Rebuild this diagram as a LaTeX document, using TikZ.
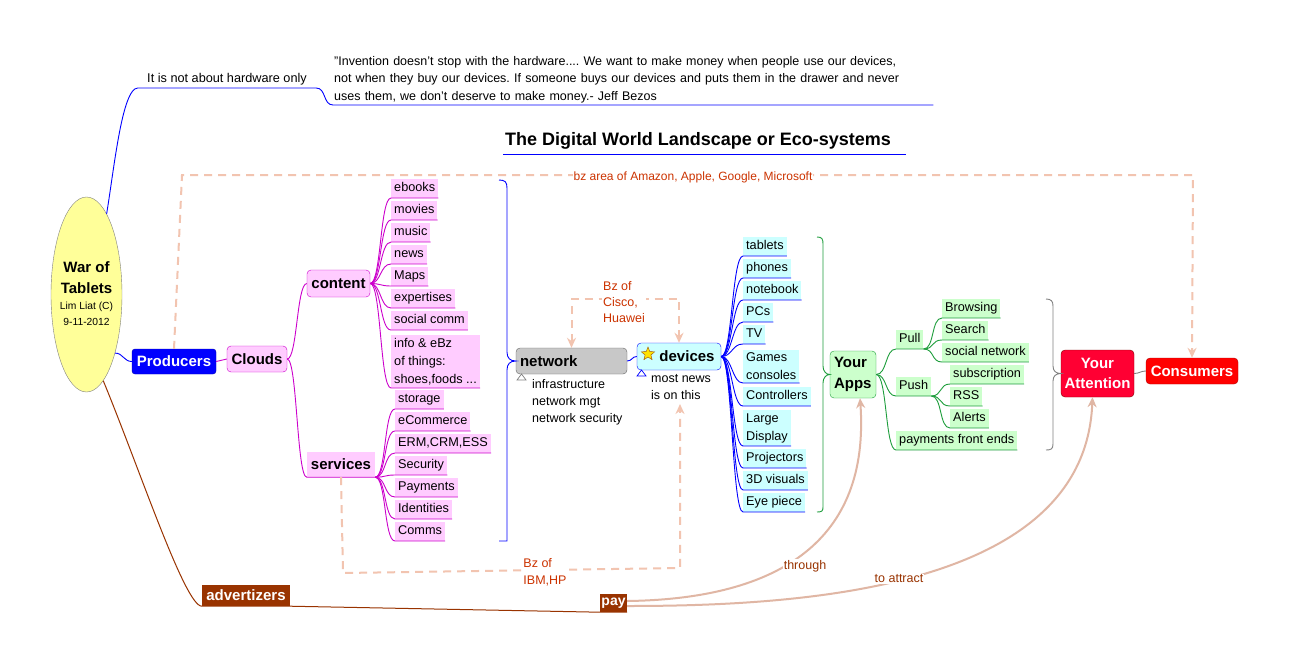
\documentclass[tikz,border=0pt]{standalone}
\usepackage{fontspec}
\setmainfont{Liberation Sans}
\usetikzlibrary{arrows.meta,shapes.geometric}
\frenchspacing
\definecolor{pinkF}{HTML}{FFCCFF}
\definecolor{magL}{HTML}{CC00CC}
\definecolor{cyanF}{HTML}{CCFFFF}
\definecolor{bluL}{HTML}{0000FF}
\definecolor{greenF}{HTML}{CCFFCC}
\definecolor{grnL}{HTML}{1E9E3C}
\definecolor{yelF}{HTML}{FFFF99}
\definecolor{brownF}{HTML}{993300}
\definecolor{salD}{HTML}{F2C4B0}
\definecolor{salS}{HTML}{E0B6A4}
\definecolor{lblR}{HTML}{CC3300}
\definecolor{lblB}{HTML}{993300}
\definecolor{grayF}{HTML}{C8C8C8}
\definecolor{attnF}{HTML}{FF0033}
\definecolor{consF}{HTML}{FF0000}
\newcommand{\linkto}[3]{\draw[#1] (#2) .. controls +(11,0) and +(-11,0) .. (#3.south west) -- (#3.south east);}
\tikzset{
 lf/.style={font=\fontsize{12.7}{18}\selectfont, inner xsep=3pt, inner ysep=0pt, minimum height=19pt, text height=9.2pt, text depth=2.8pt, anchor=south west},
 lfm/.style={font=\fontsize{12.7}{18}\selectfont, inner xsep=3pt, inner ysep=3pt, align=left, anchor=south west},
 pk/.style={fill=pinkF},
 cy/.style={fill=cyanF},
 gr/.style={fill=greenF},
 mc/.style={draw=magL, line width=0.9pt},
 bc/.style={draw=bluL, line width=0.9pt},
 gc/.style={draw=grnL, line width=0.9pt},
 big/.style={font=\fontsize{15}{21}\selectfont\bfseries, inner sep=0pt},
 dsh/.style={draw=salD, line width=2pt, dash pattern=on 8pt off 6pt},
 tipS/.style={-{Stealth[length=10pt,width=9pt,fill=salS!70]}},
 lbl/.style={font=\fontsize{12.5}{16}\selectfont, text=lblR, fill=white, inner sep=1pt, align=left},
}
\begin{document}
\begin{tikzpicture}[x=1pt,y=-1pt]
\fill[white] (0,0) rectangle (1290,667);
\useasboundingbox (0,0) rectangle (1290,667);

% central ellipse
\node[ellipse, draw=gray, fill=yelF, minimum width=71pt, minimum height=195pt, inner sep=0pt] (war) at (86.5,294.5) {};
\node[font=\fontsize{15}{18}\selectfont\bfseries, inner sep=0pt] (war1) at (86.5,267) {War of};
\node[font=\fontsize{15}{18}\selectfont\bfseries, inner sep=0pt] (war2) at (86.5,288) {Tablets};
\node[font=\fontsize{10.3}{12}\selectfont, inner sep=0pt] (war3) at (86.5,307) {Lim Liat (C)};
\node[font=\fontsize{10.3}{12}\selectfont, inner sep=0pt] (war4) at (86.5,322) {9-11-2012};

% top quote
\node[font=\fontsize{12.7}{15}\selectfont, minimum width=178pt, minimum height=18pt, inner sep=0pt, anchor=south] (hw) at (227,88) {It is not about hardware only};
\node[font=\fontsize{12.5}{17.5}\selectfont, text width=598pt, align=left, inner xsep=1pt, inner ysep=2pt, anchor=south west] (quote) at (333,105)
 {\symbol{34}Invention doesn\symbol{39}t stop with the hardware.... We want to make money when people use our devices,\\not when they buy our devices. If someone buys our devices and puts them in the drawer and never\\uses them, we don\symbol{39}t deserve to make money.- Jeff Bezos};
\draw[bluL, line width=0.9pt] (war.76) .. controls (114,170) and (122,88) .. (hw.south west) -- (hw.south east) .. controls +(10,0) and +(-10,0) .. (quote.south west) -- (quote.south east);

% title
\node[font=\fontsize{18}{20}\selectfont\bfseries, anchor=west, inner sep=0pt] (title) at (505,141) {The Digital World Landscape or Eco-systems};
\draw[bluL, line width=1pt] (503,154) -- (906,154);

% main nodes
\node[big, fill=bluL, draw=blue!70!black, rounded corners=3pt, minimum width=84pt, minimum height=25pt, text=white] (prod) at (174,361.5) {Producers};
\node[big, fill=pinkF, draw=magL, rounded corners=4pt, minimum width=60pt, minimum height=26pt] (clouds) at (257,359) {Clouds};
\node[big, fill=pinkF, draw=magL, rounded corners=4pt, minimum width=63pt, minimum height=27pt] (content) at (338.5,283.5) {content};
\node[big, fill=pinkF, minimum width=68pt, minimum height=25pt] (services) at (341,464.5) {services};
\node[big, fill=grayF, draw=gray!80!black, rounded corners=4pt, text width=103pt, align=left, inner xsep=4pt, minimum height=26pt] (network) at (571.5,361) {network};
\node[big, fill=cyanF, draw=bluL, rounded corners=4pt, minimum width=84pt, minimum height=27pt] (devices) at (679,356.5) {\hspace*{16pt}devices};
\node[star, star points=5, star point ratio=2.3, fill=yellow!85!orange, draw=orange!60!black, minimum size=14pt, inner sep=0pt] (staricon) at (648,354) {};
\node[big, fill=greenF, draw=grnL, rounded corners=4pt, text width=38pt, inner xsep=4pt, align=left, minimum height=47pt] (apps) at (853,374.5) {Your\\Apps};
\node[big, fill=attnF, draw=red!50!black, rounded corners=4pt, minimum width=73pt, minimum height=47pt, text=white, align=center, font=\fontsize{15}{20}\selectfont\bfseries] (attn) at (1097.5,373.5) {Your\\Attention};
\node[big, fill=consF, draw=red!70!black, rounded corners=4pt, minimum width=92pt, minimum height=26pt, text=white] (cons) at (1192,371) {Consumers};
\node[big, fill=brownF, minimum width=88pt, minimum height=21pt, text=white] (adv) at (246,595.5) {advertizers};
\node[font=\fontsize{14}{16}\selectfont\bfseries, fill=brownF, minimum width=27pt, minimum height=18pt, inner sep=0pt, text=white] (pay) at (613.5,603) {pay};

% notes
\node[font=\fontsize{12.5}{17}\selectfont, align=left, anchor=north west, inner sep=0pt] (netnote) at (532,379) {infrastructure\\network mgt\\network security};
\node[font=\fontsize{12.5}{17}\selectfont, align=left, anchor=north west, inner sep=0pt] (newsnote) at (651,374) {most news\\is on this};
\draw[gray, fill=white, line width=0.7pt] (517,380) -- (521.5,374) -- (526,380) -- cycle;
\draw[bluL, fill=white, line width=0.7pt] (637,376) -- (641.5,370) -- (646,376) -- cycle;

% content leaves
\node[lf,pk] (c1) at (391,198) {ebooks};
\node[lf,pk] (c2) at (391,220) {movies};
\node[lf,pk] (c3) at (391,242) {music};
\node[lf,pk] (c4) at (391,264) {news};
\node[lf,pk] (c5) at (391,286) {Maps};
\node[lf,pk] (c6) at (391,308) {expertises};
\node[lf,pk] (c7) at (391,330) {social comm};
\node[lfm,pk] (c8) at (391,388) {info \& eBz\\of things:\\shoes,foods ...};
% services leaves
\node[lf,pk] (s1) at (395,409) {storage};
\node[lf,pk] (s2) at (395,431) {eCommerce};
\node[lf,pk] (s3) at (395,453) {ERM,CRM,ESS};
\node[lf,pk] (s4) at (395,475) {Security};
\node[lf,pk] (s5) at (395,497) {Payments};
\node[lf,pk] (s6) at (395,519) {Identities};
\node[lf,pk] (s7) at (395,541) {Comms};
% devices leaves
\node[lf,cy] (d1) at (743,256) {tablets};
\node[lf,cy] (d2) at (743,278) {phones};
\node[lf,cy] (d3) at (743,300) {notebook};
\node[lf,cy] (d4) at (743,322) {PCs};
\node[lf,cy] (d5) at (743,344) {TV};
\node[lfm,cy] (d6) at (743,383) {Games\\consoles};
\node[lf,cy] (d7) at (743,406) {Controllers};
\node[lfm,cy] (d8) at (743,446) {Large\\Display};
\node[lf,cy] (d9) at (743,468) {Projectors};
\node[lf,cy] (d10) at (743,490) {3D visuals};
\node[lf,cy] (d11) at (743,512) {Eye piece};
% apps leaves
\node[lf,gr] (pull) at (896,349) {Pull};
\node[lf,gr] (push) at (896,396) {Push};
\node[lf,gr] (pfe) at (896,450) {payments front ends};
\node[lf,gr] (a1) at (942,318) {Browsing};
\node[lf,gr] (a2) at (942,340) {Search};
\node[lf,gr] (a3) at (942,362) {social network};
\node[lf,gr] (b1) at (950,384) {subscription};
\node[lf,gr] (b2) at (950,406) {RSS};
\node[lf,gr] (b3) at (950,428) {Alerts};

% connectors
\draw[bc] (war.-64) .. controls +(8,0) and +(-8,0) .. (prod.west);
\draw[mc] (prod.east) -- (clouds.west);
\draw[mc] (clouds.east) .. controls +(10,0) and +(-10,0) .. (content.west);
\draw[mc] (clouds.east) .. controls +(10,0) and +(-10,0) .. (services.south west) -- (services.south east);
\foreach \n in {c1,c2,c3,c4,c5,c6,c7,c8} {\linkto{mc}{content.east}{\n}}
\foreach \n in {s1,s2,s3,s4,s5,s6,s7} {\linkto{mc}{services.south east}{\n}}
\foreach \n in {d1,d2,d3,d4,d5,d6,d7,d8,d9,d10,d11} {\linkto{bc}{devices.east}{\n}}
\foreach \n in {pull,push,pfe} {\linkto{gc}{apps.east}{\n}}
\foreach \n in {a1,a2,a3} {\linkto{gc}{pull.south east}{\n}}
\foreach \n in {b1,b2,b3} {\linkto{gc}{push.south east}{\n}}
\draw[bc] (network.east) .. controls +(5,0) and +(-5,0) .. (devices.west);
\draw[gray, line width=0.9pt] (cons.west) .. controls +(-5,0) and +(5,0) .. (attn.east);

% braces
\draw[bc] (499,180) .. controls (505,180) and (507,182) .. (507,188) -- (507,352) .. controls (507,358) and (510,361) .. (network.west) .. controls (510,361) and (507,364) .. (507,370) -- (507,541) -- (499,541);
\draw[gc] (817,237) .. controls (822,237) and (823,239) .. (823,244) -- (823,366) .. controls (823,371) and (826,374.5) .. (apps.west) .. controls (826,374.5) and (823,378) .. (823,383) -- (823,507) .. controls (823,511) and (822,512) .. (817,512);
\draw[gray, line width=0.9pt] (1046,299) .. controls (1051,299) and (1053,301) .. (1053,306) -- (1053,366) .. controls (1053,371) and (1056,373.5) .. (attn.west) .. controls (1056,373.5) and (1053,376) .. (1053,381) -- (1053,444) .. controls (1053,449) and (1051,450) .. (1046,450);

% brown line
\draw[brownF, line width=1pt] (war.-79) .. controls (140,470) and (185,606) .. (adv.south west) -- (adv.south east) -- (pay.south west) -- (pay.south east);

% dashed relations
\draw[dsh, tipS] (prod.north) -- (182,175) -- (1193,175) -- (cons.north);
\draw[dsh, tipS] (services.south) -- (343,573) -- (680,568) -- (680,404);
\draw[dsh, {Stealth[length=10pt,width=9pt,fill=salS!70]}-{Stealth[length=10pt,width=9pt,fill=salS!70]}] (network.north) -- ++(0,-49) -| (devices.north);

% salmon curves
\draw[salS, line width=2pt, tipS] ([yshift=2pt]pay.east) .. controls (780,599) and (870,540) .. ([xshift=7pt]apps.south);
\draw[salS, line width=2pt, tipS] ([yshift=-3pt]pay.east) .. controls (800,606) and (1085,590) .. ([xshift=-5pt]attn.south);

% labels
\node[lbl, font=\fontsize{12}{14}\selectfont] (bzarea) at (693,177) {bz area of Amazon, Apple, Google, Microsoft};
\node[lbl] (cisco) at (624,302) {Bz of\\Cisco,\\Huawei};
\node[lbl, font=\fontsize{12.5}{17}\selectfont] (ibm) at (545,572.5) {Bz of\\IBM,HP};
\node[lbl, text=lblB] (thr) at (805,566) {through};
\node[lbl, text=lblB] (attr) at (899,579) {to attract};
\end{tikzpicture}
\end{document}
